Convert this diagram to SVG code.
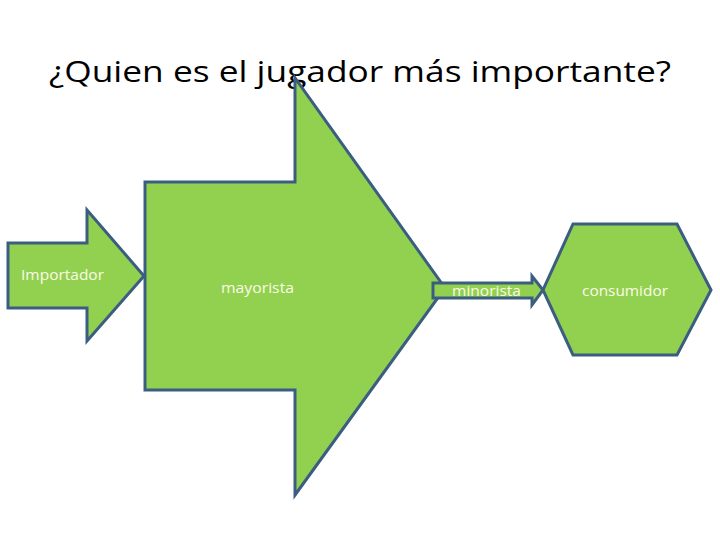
<svg xmlns="http://www.w3.org/2000/svg" width="720" height="540" viewBox="0 0 720 540">
<style>
.shape{fill:#92d050;stroke:#3b5e80;stroke-width:3;stroke-linejoin:miter}
.lbl{font-family:"Open Sans","Liberation Sans",sans-serif;font-size:14px;fill:#fbfbe6}
.title{font-family:"Open Sans","Liberation Sans",sans-serif;font-size:30px;fill:#000}
</style>
<rect width="720" height="540" fill="#fff"/>
<text class="title" x="360" y="82" text-anchor="middle" textLength="622" lengthAdjust="spacingAndGlyphs">¿Quien es el jugador más importante?</text>
<g id="importador">
<polygon class="shape" points="8,243 87,243 87,210 144,276 87,341 87,308 8,308"/>
<text class="lbl" x="21" y="280" textLength="83" lengthAdjust="spacingAndGlyphs">Importador</text>
</g>
<g id="mayorista">
<polygon class="shape" points="145,182 295,182 295,78 445,288 295,495 295,390 145,390"/>
<text class="lbl" x="221" y="293" textLength="73" lengthAdjust="spacingAndGlyphs">mayorista</text>
</g>
<g id="minorista">
<polygon class="shape" points="433,283 532,283 532,276 543,290 532,305 532,298 433,298"/>
<text class="lbl" x="452" y="296" textLength="69" lengthAdjust="spacingAndGlyphs">minorista</text>
</g>
<g id="consumidor">
<polygon class="shape" points="573,224 677,224 711,290 677,355 573,355 543,290"/>
<text class="lbl" x="582" y="296" textLength="86" lengthAdjust="spacingAndGlyphs">consumidor</text>
</g>
<g id="connectors"></g>
</svg>
